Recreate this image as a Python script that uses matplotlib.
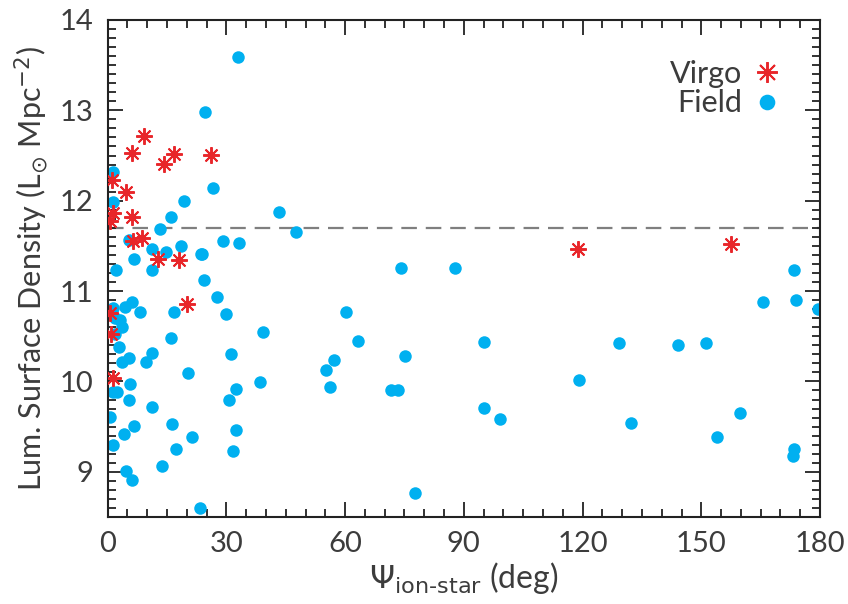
import matplotlib
matplotlib.use('Agg')
import matplotlib.pyplot as plt
from matplotlib.ticker import MultipleLocator

# Virgo galaxies (red asterisks)
virgo_psi = [9.2, 6.2, 14.2, 16.7, 26.0, 4.7, 1.2, 1.3, 6.2, 0.5, 8.6, 6.4,
             12.7, 17.9, 20.1, 0.9, 0.5, 1.3, 118.8, 157.5]
virgo_sd = [12.72, 12.53, 12.41, 12.52, 12.51, 12.10, 12.23, 11.86, 11.82, 11.77, 11.59, 11.55,
            11.35, 11.34, 10.86, 10.52, 10.76, 10.04, 11.47, 11.52]

# Field galaxies (blue circles)
field_psi = [32.9, 24.5, 1.3, 26.7, 19.2, 1.3, 16.1, 13.1, 5.4, 6.6,
             11.2, 14.8, 18.6, 23.7, 29.2, 33.2, 43.2, 47.7, 23.9, 24.3,
             27.7, 29.8, 60.3, 2.2, 11.2, 1.3, 4.3, 6.1, 8.2, 16.7,
             1.8, 3.2, 3.7, 1.9, 2.8, 16.1, 3.5, 5.3, 9.8, 11.2,
             20.2, 5.7, 1.3, 2.4, 5.3, 11.2, 0.5, 6.6, 16.2, 4.1,
             21.2, 1.3, 17.3, 13.7, 4.7, 6.1, 23.3, 39.3, 31.2, 57.2,
             55.2, 38.6, 32.3, 30.7, 56.3, 32.3, 31.7, 74.2, 87.7, 63.2,
             71.5, 73.3, 75.1, 77.6, 95.0, 95.0, 99.1, 119.1, 129.2, 132.2,
             144.1, 151.2, 154.0, 159.8, 165.5, 173.5, 174.0, 173.5, 173.2, 179.5]
field_sd = [13.59, 12.98, 12.32, 12.14, 12.00, 11.99, 11.82, 11.69, 11.56, 11.35,
            11.46, 11.43, 11.50, 11.41, 11.55, 11.53, 11.88, 11.65, 11.41, 11.12,
            10.93, 10.75, 10.77, 11.23, 11.23, 10.81, 10.82, 10.88, 10.77, 10.77,
            10.70, 10.68, 10.60, 10.53, 10.38, 10.48, 10.22, 10.26, 10.22, 10.31,
            10.09, 9.97, 9.88, 9.88, 9.79, 9.72, 9.61, 9.51, 9.53, 9.42,
            9.39, 9.30, 9.25, 9.07, 9.01, 8.91, 8.60, 10.55, 10.30, 10.24,
            10.13, 9.99, 9.92, 9.79, 9.94, 9.46, 9.23, 11.26, 11.26, 10.45,
            9.91, 9.91, 10.28, 8.77, 10.44, 9.71, 9.58, 10.02, 10.43, 9.54,
            10.40, 10.43, 9.39, 9.65, 10.88, 11.23, 10.90, 9.25, 9.17, 10.80]

threshold = 11.7

txt = '#3c3c3c'
plt.rcParams['font.family'] = ['Lato', 'DejaVu Sans']
plt.rcParams['mathtext.fontset'] = 'dejavusans'

fig = plt.figure(figsize=(8.48, 6.04), dpi=100)
ax = fig.add_axes([0.127, 0.144, 0.840, 0.823])

ax.axhline(threshold, color='#7f7f7f', lw=1.6, dashes=(7, 4), zorder=1)

ax.plot(field_psi, field_sd, 'o', ls='none', color='#00b0f0', ms=9, mec='none',
        label='Field', zorder=2)
ax.plot(virgo_psi, virgo_sd, marker=(8, 2, 0), ls='none', color='#e8262a', ms=12,
        mew=1.4, label='Virgo', zorder=3)

ax.set_xlim(0, 180)
ax.set_ylim(8.5, 14)
ax.xaxis.set_major_locator(MultipleLocator(30))
ax.xaxis.set_minor_locator(MultipleLocator(5))
ax.yaxis.set_major_locator(MultipleLocator(1))
ax.yaxis.set_minor_locator(MultipleLocator(0.1))
ax.tick_params(which='both', direction='in', top=True, right=True, colors='#222222',
               labelcolor=txt, labelsize=21, width=1.3)
ax.tick_params(which='major', length=11, pad=10)
ax.tick_params(which='minor', length=5.5)
for s in ax.spines.values():
    s.set_linewidth(1.5)
    s.set_color('#222222')

ax.set_xlabel(r'$\Psi_{\text{ion-star}}$ (deg)', fontsize=23, color=txt, labelpad=2)
ax.set_ylabel(r'Lum. Surface Density (L$_{\odot}$ Mpc$^{-2}$)', fontsize=22, color=txt,
              labelpad=7)

h, l = ax.get_legend_handles_labels()
ax.legend(h[::-1], l[::-1], loc='upper right', frameon=False, markerfirst=False,
          fontsize=22, labelcolor=txt, handletextpad=0.3, borderaxespad=0.5,
          labelspacing=0.05, handlelength=1.0, markerscale=1.25,
          bbox_to_anchor=(0.985, 0.975))

fig.savefig('out.png', dpi=100)
